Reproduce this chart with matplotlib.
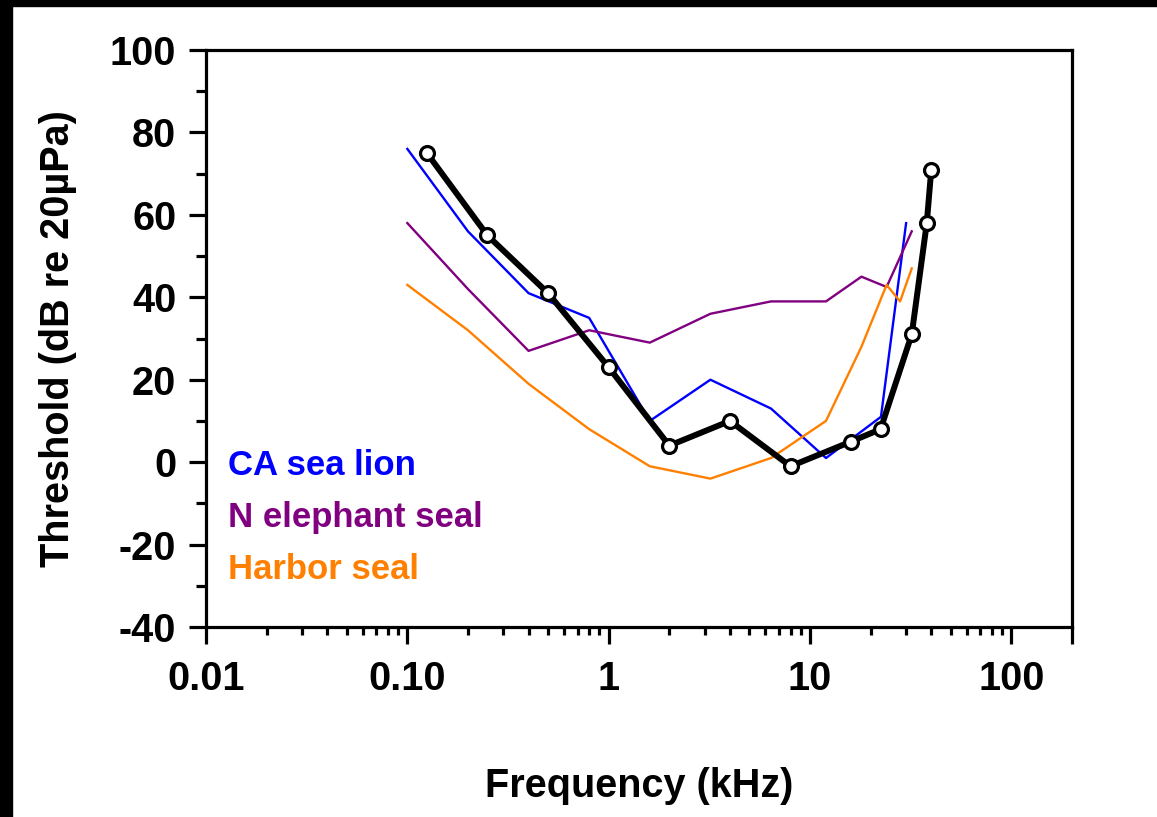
import matplotlib.pyplot as plt
from matplotlib.patches import Rectangle
from matplotlib.ticker import FixedLocator, NullFormatter

plt.rcParams['font.family'] = ['Liberation Sans', 'DejaVu Sans']
plt.rcParams['font.weight'] = 'bold'
plt.rcParams['axes.unicode_minus'] = False

# measured thresholds (kHz, dB re 20 uPa)
measured_freq = [0.125, 0.25, 0.5, 1, 2, 4, 8, 16, 22.4, 32, 38, 40]
measured_db = [75, 55, 41, 23, 4, 10, -1, 5, 8, 31, 58, 71]

sea_lion_freq = [0.1, 0.2, 0.4, 0.8, 1.6, 3.2, 6.4, 12, 22.5, 30]
sea_lion_db = [76, 56, 41, 35, 10, 20, 13, 1, 11, 58]

elephant_freq = [0.1, 0.2, 0.4, 0.8, 1.6, 3.2, 6.4, 12, 18, 24, 32]
elephant_db = [58, 42, 27, 32, 29, 36, 39, 39, 45, 42.5, 56]

harbor_freq = [0.1, 0.2, 0.4, 0.8, 1.6, 3.2, 6.4, 12, 18, 24, 28, 32]
harbor_db = [43, 32, 19, 8, -1, -4, 1, 10, 28, 43, 39, 47]

x_ticks = [0.01, 0.1, 1, 10, 100, 200]
x_labels = ['0.01', '0.10', '1', '10', '100', '']
y_ticks = [-40, -20, 0, 20, 40, 60, 80, 100]

fig = plt.figure(figsize=(11.57, 8.17), dpi=100)
ax = fig.add_axes([206 / 1157, 1 - 627 / 817, 866 / 1157, 577 / 817])

ax.plot(sea_lion_freq, sea_lion_db, color='#0000ff', lw=1.7, zorder=2)
ax.plot(elephant_freq, elephant_db, color='#800080', lw=1.7, zorder=2)
ax.plot(harbor_freq, harbor_db, color='#ff8000', lw=1.7, zorder=2)
ax.plot(measured_freq, measured_db, color='black', lw=4.3, marker='o',
        ms=10, mfc='white', mec='black', mew=2.3, zorder=3)

ax.set_xscale('log')
ax.set_xlim(0.01, 200)
ax.set_ylim(-40, 100)

ax.xaxis.set_major_locator(FixedLocator(x_ticks))
ax.set_xticklabels(x_labels)
minor_x = [m * d for d in [0.01, 0.1, 1, 10] for m in range(2, 10)]
ax.xaxis.set_minor_locator(FixedLocator(minor_x))
ax.xaxis.set_minor_formatter(NullFormatter())
ax.set_yticks(y_ticks)
ax.set_yticklabels([str(v) for v in y_ticks])
ax.yaxis.set_minor_locator(FixedLocator(range(-30, 100, 20)))

for s in ax.spines.values():
    s.set_linewidth(2.3)
ax.tick_params(which='major', length=12.5, width=2.3, labelsize=28.5, pad=9)
ax.tick_params(which='minor', length=7, width=2.3)
ax.tick_params(axis='x', which='minor', length=6)
ax.tick_params(axis='x', which='major', pad=11)

ax.set_xlabel('Frequency (kHz)', fontsize=28.5, fontweight='bold')
ax.set_ylabel('Threshold (dB re 20µPa)', fontsize=28.5, fontweight='bold')
ax.xaxis.set_label_coords(0.5, -0.243)
ax.yaxis.set_label_coords(-0.149, 0.5)

ax.text(0.025, 0.28, 'CA sea lion', color='#0000ff', fontsize=25,
        fontweight='bold', transform=ax.transAxes, va='center')
ax.text(0.025, 0.19, 'N elephant seal', color='#800080', fontsize=25,
        fontweight='bold', transform=ax.transAxes, va='center')
ax.text(0.025, 0.10, 'Harbor seal', color='#ff8000', fontsize=25,
        fontweight='bold', transform=ax.transAxes, va='center')

# dark border strips along the top and left edges
fig.patches.append(Rectangle((0, 1 - 6 / 817), 1, 6 / 817, transform=fig.transFigure,
                             color='black', zorder=10))
fig.patches.append(Rectangle((0, 0), 12 / 1157, 1, transform=fig.transFigure,
                             color='black', zorder=10))

fig.savefig('out.png', dpi=100)
